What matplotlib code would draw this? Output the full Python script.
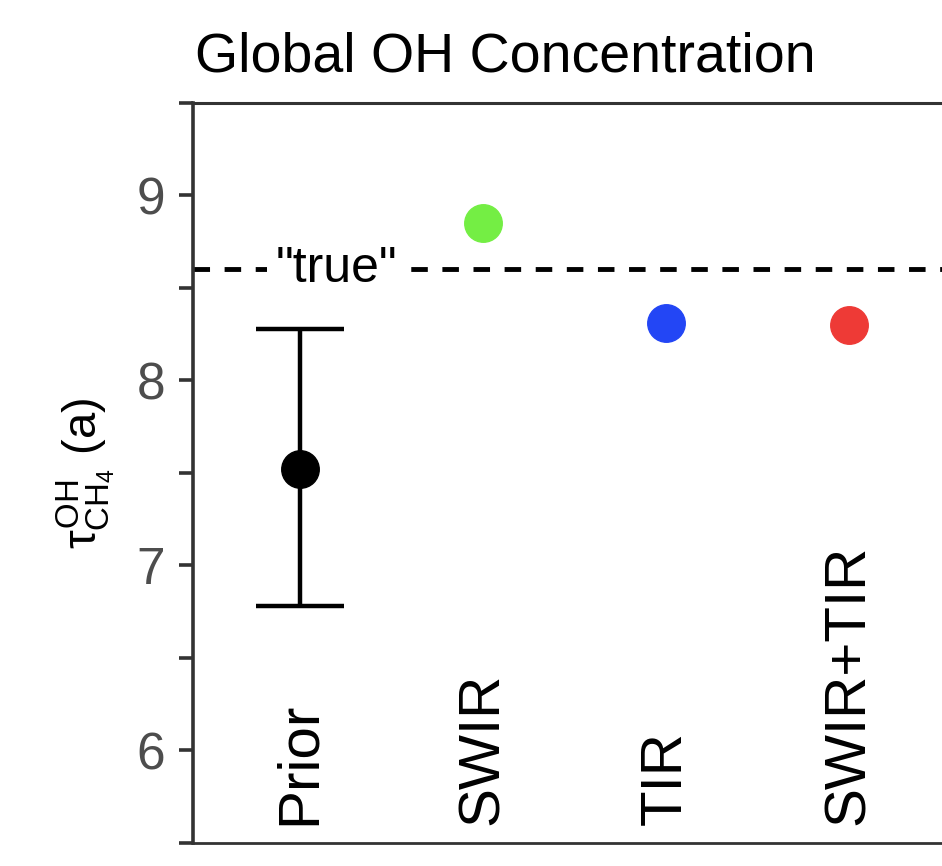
import numpy as np
import matplotlib
matplotlib.use("Agg")
import matplotlib.pyplot as plt
import matplotlib.transforms as mtransforms

plt.rcParams['font.family'] = ['Liberation Sans', 'DejaVu Sans']
plt.rcParams['mathtext.fontset'] = 'custom'
plt.rcParams['mathtext.rm'] = 'Liberation Sans'
plt.rcParams['mathtext.it'] = 'Liberation Sans'
plt.rcParams['mathtext.bf'] = 'Liberation Sans:bold'

# data
categories = ["Prior", "SWIR", "TIR", "SWIR+TIR"]
values = [7.52, 8.85, 8.31, 8.30]
colors = ["#000000", "#74EE44", "#2346F5", "#EE3A36"]
prior_low = 6.78
prior_high = 8.28
true_value = 8.6
yticks = [5.5, 6, 6.5, 7, 7.5, 8, 8.5, 9, 9.5]

fig = plt.figure(figsize=(9.42, 8.66), dpi=100)
ax = fig.add_axes([193/942, 1 - 843/866, 1 - 193/942, (843 - 103)/866])

x = np.arange(1, len(categories) + 1)

# "true" line
ax.axhline(true_value, color='black', lw=3.5, dashes=(3.4, 3.0), zorder=1)
ax.text(1.2, true_value, '"true"', fontsize=36, ha='center', va='center',
        bbox=dict(facecolor='white', edgecolor='none', pad=6), zorder=2)

# prior with error bar
ax.errorbar(x[0], values[0],
            yerr=[[values[0] - prior_low], [prior_high - values[0]]],
            fmt='o', color='black', ms=27, elinewidth=3.2, capsize=32,
            capthick=3.2, zorder=3)

# posterior estimates
for xi, v, c in zip(x[1:], values[1:], colors[1:]):
    ax.plot(xi, v, 'o', color=c, ms=27, zorder=3)

# category labels inside the panel
trans = mtransforms.blended_transform_factory(ax.transData, ax.transAxes)
for xi, name in zip(x, categories):
    ax.text(xi, 0.024, name, rotation=90, ha='center', va='bottom',
            fontsize=42, color='black', transform=trans)

ax.set_xlim(0.415, 4.508)
ax.set_ylim(5.5, 9.5)
ax.set_xticks([])
ax.set_yticks(yticks)
ax.set_yticklabels([str(int(t)) if t == int(t) else '' for t in yticks])
ax.tick_params(axis='y', length=10, width=2.6, color='#333333',
               labelsize=37, labelcolor='#4D4D4D', pad=10)

for side in ['left', 'top', 'bottom']:
    ax.spines[side].set_color('#333333')
ax.spines['left'].set_linewidth(2.6)
ax.spines['top'].set_linewidth(2.2)
ax.spines['bottom'].set_linewidth(2.0)
ax.spines['right'].set_visible(False)

ax.set_ylabel(r'$\tau^{\mathrm{OH}}_{\mathrm{CH_4}}$ (a)', fontsize=34, labelpad=14)

fig.text(195/942, 1 - 72/866, 'Global OH Concentration', fontsize=40,
         ha='left', va='baseline')

fig.savefig('out.png', dpi=100)
